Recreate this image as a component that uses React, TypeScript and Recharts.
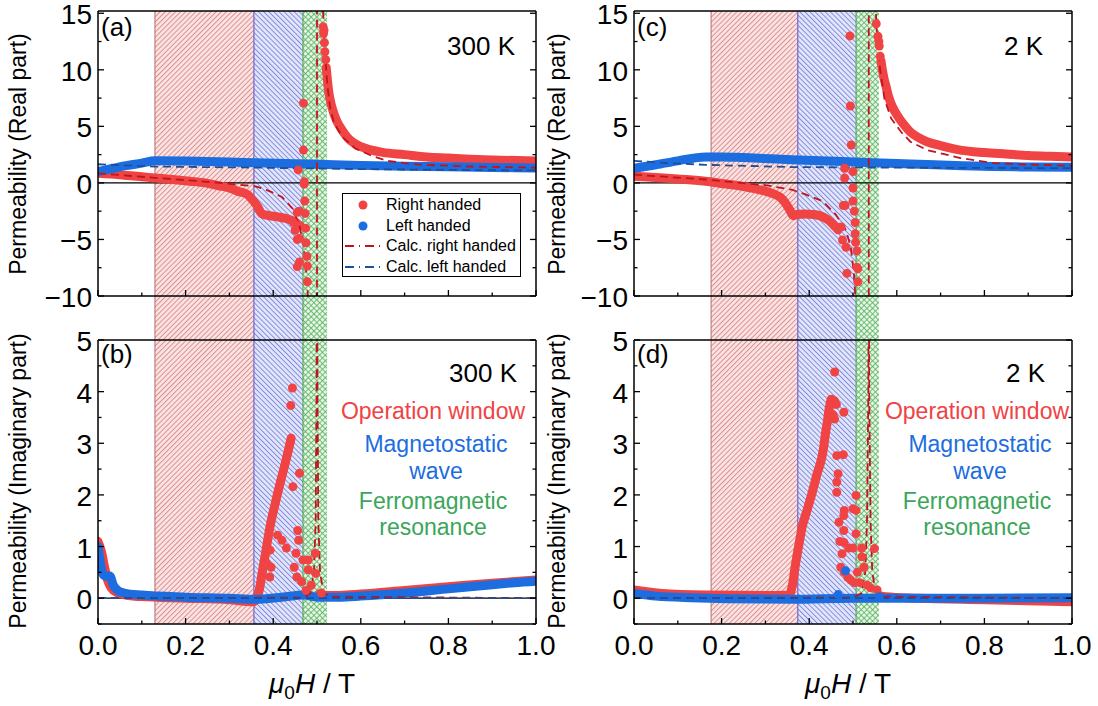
import React from 'react';
import {
  ComposedChart,
  Line,
  Scatter,
  XAxis,
  YAxis,
  ReferenceArea,
  ReferenceLine,
  Legend
} from 'recharts';

type Pair = [number, number];

// ---- axes
const X_TICKS = [0, 0.1, 0.2, 0.3, 0.4, 0.5, 0.6, 0.7, 0.8, 0.9, 1.0];
const REAL_TICKS = [-10, -7.5, -5, -2.5, 0, 2.5, 5, 7.5, 10, 12.5, 15];
const IMAG_TICKS = [-0.5, 0, 0.5, 1, 1.5, 2, 2.5, 3, 3.5, 4, 4.5, 5];
const REAL_DOMAIN: [number, number] = [-10, 15.2];
const IMAG_DOMAIN: [number, number] = [-0.5, 5];

// ---- shaded field windows (T): operation / magnetostatic wave / FMR
const WIN_300K: Pair[] = [[0.13, 0.356], [0.356, 0.468], [0.468, 0.523]];
const WIN_2K: Pair[] = [[0.176, 0.374], [0.374, 0.507], [0.507, 0.559]];

// ---- (a) 300 K, real part
const aRedLow: Pair[] = [
  [0, 0.85], [0.03, 0.78], [0.06, 0.68], [0.1, 0.55], [0.13, 0.43], [0.17, 0.3], [0.21, 0.15],
  [0.245, 0.0], [0.275, -0.25], [0.3, -0.45], [0.32, -0.75], [0.34, -1.0], [0.355, -1.6],
  [0.366, -2.2], [0.373, -2.7], [0.385, -2.85], [0.41, -3.0], [0.43, -3.15], [0.445, -3.35],
  [0.455, -3.6], [0.462, -3.8]
];
const aRedHigh: Pair[] = [
  [0.521, 10.2], [0.524, 9.0], [0.527, 8.0], [0.532, 7.0], [0.538, 6.2], [0.545, 5.5], [0.555, 4.8],
  [0.57, 4.0], [0.585, 3.5], [0.6, 3.2], [0.62, 2.95], [0.65, 2.7], [0.7, 2.5], [0.75, 2.3],
  [0.8, 2.2], [0.85, 2.1], [0.9, 2.03], [1.0, 1.93]
];
const aRedDots: Pair[] = [
  [0.514, 13.8], [0.516, 13.5], [0.515, 13.2], [0.517, 12.4], [0.518, 11.6], [0.52, 10.9],
  [0.469, 7.05], [0.469, 2.9], [0.457, 1.15], [0.471, 0.1], [0.471, -0.1], [0.472, -1.6],
  [0.455, -2.6], [0.46, -2.5], [0.473, -2.7], [0.446, -3.5], [0.45, -4.2], [0.474, -4.0],
  [0.455, -5.0], [0.46, -4.9], [0.475, -5.3], [0.477, -6.5], [0.455, -7.4], [0.46, -7.0],
  [0.478, -7.35], [0.478, -8.75]
];
const aBlue: Pair[] = [
  [0, 1.0], [0.03, 1.25], [0.06, 1.5], [0.1, 1.75], [0.13, 1.95], [0.2, 1.93], [0.3, 1.85],
  [0.36, 1.78], [0.45, 1.7], [0.52, 1.62], [0.6, 1.55], [0.7, 1.48], [0.8, 1.42], [0.9, 1.37], [1.0, 1.32]
];
const aCalcRed: Pair[] = [
  [0, 0.85], [0.13, 0.45], [0.25, 0.1], [0.36, -0.3], [0.39, -0.7], [0.42, -1.25], [0.445, -2.3],
  [0.46, -3.8], [0.47, -5.6], [0.476, -8.0], [0.48, -10.5], [0.485, -20], [0.5, -20], [0.5, 20],
  [0.512, 20], [0.514, 15], [0.518, 11.5], [0.524, 8.5], [0.53, 6.7], [0.538, 5.4], [0.557, 4.1],
  [0.587, 3.05], [0.625, 2.4], [0.66, 1.95], [0.7, 1.75], [0.74, 1.6], [0.85, 1.45], [1.0, 1.35]
];
const aCalcBlue: Pair[] = [[0, 1.65], [0.13, 1.45], [0.36, 1.35], [0.6, 1.22], [0.8, 1.15], [1.0, 1.1]];

// ---- (b) 300 K, imaginary part
const bRedRise: Pair[] = [
  [0, 1.1], [0.008, 0.9], [0.015, 0.6], [0.022, 0.35], [0.03, 0.2], [0.045, 0.1], [0.07, 0.05],
  [0.1, 0.03], [0.2, 0.0], [0.3, -0.03], [0.355, -0.07], [0.362, 0.0], [0.368, 0.15], [0.375, 0.5],
  [0.383, 0.9], [0.392, 1.35], [0.405, 1.85], [0.418, 2.3], [0.43, 2.7], [0.437, 2.95], [0.441, 3.1]
];
const bRedTail: Pair[] = [
  [0.505, 0.08], [0.515, 0.06], [0.525, 0.05], [0.6, 0.08], [0.7, 0.15], [0.8, 0.22], [0.9, 0.29], [1.0, 0.35]
];
const bRedDots: Pair[] = [
  [0.444, 4.07], [0.44, 3.73], [0.46, 2.42], [0.445, 2.16], [0.41, 1.22], [0.42, 1.12], [0.43, 0.97],
  [0.393, 0.93], [0.385, 0.68], [0.395, 0.6], [0.392, 0.41], [0.456, 1.31], [0.458, 1.12],
  [0.452, 0.87], [0.448, 0.6], [0.454, 0.41], [0.465, 0.32], [0.468, 0.74], [0.48, 0.74],
  [0.48, 0.55], [0.496, 0.87], [0.497, 0.48], [0.487, 0.25], [0.51, 0.1], [0.475, 0.15]
];
const bBlue: Pair[] = [
  [0, 1.0], [0.005, 0.7], [0.012, 0.45], [0.02, 0.42], [0.027, 0.43], [0.035, 0.25], [0.045, 0.15],
  [0.06, 0.1], [0.1, 0.06], [0.2, 0.02], [0.3, 0.0], [0.36, -0.02], [0.42, 0.02], [0.47, 0.06],
  [0.5, 0.02], [0.55, 0.02], [0.6, 0.04], [0.7, 0.1], [0.8, 0.18], [0.9, 0.26], [0.95, 0.3], [1.0, 0.33]
];
const bCalcRed: Pair[] = [
  [0, 0], [0.47, 0.01], [0.485, 0.1], [0.493, 0.5], [0.497, 1.5], [0.499, 4], [0.5, 8], [0.501, 4],
  [0.503, 1.5], [0.507, 0.5], [0.515, 0.1], [0.53, 0.03], [1.0, 0]
];
const bCalcBlue: Pair[] = [[0, 0], [1.0, 0]];

// ---- (c) 2 K, real part
const cRedLow: Pair[] = [
  [0, 0.6], [0.05, 0.48], [0.1, 0.35], [0.163, 0.14], [0.2, -0.05], [0.247, -0.3], [0.275, -0.5],
  [0.3, -0.73], [0.32, -1.0], [0.335, -1.3], [0.345, -1.75], [0.355, -2.35], [0.364, -2.9],
  [0.372, -2.8], [0.39, -2.75], [0.41, -2.8], [0.434, -3.05], [0.449, -3.45], [0.46, -3.9], [0.466, -4.15]
];
const cRedHigh: Pair[] = [
  [0.564, 10.8], [0.567, 10.0], [0.571, 9.2], [0.575, 8.6], [0.58, 7.8], [0.586, 7.1], [0.593, 6.5],
  [0.601, 5.97], [0.615, 5.2], [0.631, 4.5], [0.65, 4.0], [0.669, 3.64], [0.7, 3.3], [0.745, 2.9],
  [0.8, 2.68], [0.85, 2.55], [0.9, 2.42], [0.95, 2.35], [1.0, 2.3]
];
const cRedDots: Pair[] = [
  [0.493, 13.0], [0.494, 6.8], [0.496, 3.35], [0.481, 1.3], [0.481, 0.43], [0.5, 1.0], [0.5, -0.45],
  [0.5, -1.6], [0.478, -2.0], [0.482, -2.0], [0.503, -2.5], [0.505, -3.5], [0.473, -3.9],
  [0.505, -4.5], [0.476, -5.05], [0.506, -5.25], [0.484, -5.7], [0.509, -6.0], [0.509, -7.45],
  [0.511, -7.6], [0.486, -8.0], [0.511, -8.75], [0.553, 14.07], [0.557, 12.96], [0.559, 12.5],
  [0.56, 12.1], [0.562, 11.2]
];
const cBlue: Pair[] = [
  [0, 1.3], [0.05, 1.6], [0.1, 1.95], [0.163, 2.3], [0.2, 2.3], [0.25, 2.24], [0.36, 2.05], [0.5, 1.85],
  [0.6, 1.72], [0.67, 1.62], [0.75, 1.52], [0.82, 1.45], [0.9, 1.41], [1.0, 1.38]
];
const cCalcRed: Pair[] = [
  [0, 0.73], [0.163, 0.3], [0.3, -0.2], [0.36, -0.6], [0.39, -1.0], [0.43, -1.6], [0.46, -2.75],
  [0.484, -4.2], [0.495, -5.7], [0.502, -8], [0.506, -10.5], [0.51, -20], [0.536, -20], [0.536, 20],
  [0.55, 20], [0.553, 14], [0.562, 10], [0.572, 7.4], [0.587, 5.7], [0.61, 4.5], [0.631, 3.64],
  [0.67, 2.9], [0.745, 2.2], [0.822, 1.74], [0.9, 1.62], [1.0, 1.52]
];
const cCalcBlue: Pair[] = [[0, 1.95], [0.08, 1.75], [0.163, 1.6], [0.36, 1.4], [0.6, 1.35], [1.0, 1.3]];

// ---- (d) 2 K, imaginary part
const dRedRise: Pair[] = [
  [0, 0.16], [0.065, 0.09], [0.163, 0.06], [0.3, 0.05], [0.354, 0.06], [0.361, 0.22], [0.369, 0.67],
  [0.377, 1.06], [0.384, 1.38], [0.395, 1.7], [0.406, 2.02], [0.418, 2.41], [0.429, 2.73],
  [0.433, 2.92], [0.437, 3.18], [0.441, 3.4], [0.446, 3.69], [0.45, 3.85]
];
const dRedTail: Pair[] = [[0.56, 0.05], [0.574, 0.03], [0.65, 0.0], [0.8, -0.03], [0.9, -0.05], [1.0, -0.07]];
const dRedDots: Pair[] = [
  [0.458, 4.38], [0.452, 3.85], [0.458, 3.82], [0.462, 3.75], [0.479, 3.6], [0.458, 3.47], [0.455, 3.55],
  [0.463, 2.76], [0.478, 2.78], [0.466, 2.41], [0.463, 2.25], [0.463, 2.05], [0.48, 1.7], [0.479, 1.6],
  [0.468, 1.47], [0.479, 1.31], [0.47, 1.1], [0.479, 1.08], [0.475, 0.86], [0.472, 0.6], [0.48, 0.5],
  [0.488, 0.4], [0.495, 0.35], [0.503, 0.3], [0.507, 1.99], [0.5, 1.73], [0.507, 1.7], [0.507, 1.25],
  [0.49, 0.97], [0.5, 0.97], [0.52, 0.97], [0.52, 0.8], [0.525, 0.6], [0.549, 0.96], [0.533, 0.25],
  [0.54, 0.2], [0.555, 0.16], [0.51, 0.5], [0.515, 0.3]
];
const dBlue: Pair[] = [[0, 0.09], [0.05, 0.04], [0.13, 0.01], [0.36, -0.02], [0.5, 0.0], [0.575, 0.0], [0.8, 0.0], [1.0, 0.01]];
const dBlueDots: Pair[] = [[0.483, 0.53], [0.466, 0.07], [0.56, 0.03]];
const dCalcRed: Pair[] = [
  [0, 0], [0.5, 0.01], [0.52, 0.1], [0.528, 0.5], [0.532, 1.5], [0.535, 4], [0.536, 8], [0.537, 4],
  [0.54, 1.5], [0.544, 0.5], [0.552, 0.1], [0.57, 0.03], [1.0, 0]
];
const dCalcBlue: Pair[] = [[0, 0], [1.0, 0]];

// ---- colours / fonts
const RED = '#f04343';
const BLUE = '#1c6ddf';
const CALC_RED = '#c0141c';
const CALC_BLUE = '#1f4f96';
const GREEN_TXT = '#3aa65a';
const FONT = "'Liberation Sans', Arial, Helvetica, sans-serif";
const CHART_W = 562;
const PLOT_RIGHT_PAD = 26; // chart width minus plot right edge
const AXIS_LINE = { stroke: '#000', strokeWidth: 1.5 };
const HATCH_IDS = ['hatch-red', 'hatch-blue', 'hatch-green'];
const HATCH_EDGES = ['#b86a6a', '#5a4fc4', '#3f9f45'];

const pts = (a: Pair[]) => a.map(([x, y]) => ({ x, y }));
const isXMajor = (v: number) => Math.round(v * 10) % 2 === 0;
const isRealMajor = (v: number) => v % 5 === 0;
const isImagMajor = (v: number) => Number.isInteger(v);
const fmtX = (v: number) => v.toFixed(1);
const fmtY = (v: number) => (v < 0 ? '\u2212' + Math.abs(v) : String(v));

type Side = 'bottom' | 'top' | 'left' | 'right';

function tickRenderer(side: Side, isMajor: (v: number) => boolean, fmt: ((v: number) => string) | null) {
  return (props: any) => {
    const { x, y, payload } = props;
    const v = payload.value as number;
    const major = isMajor(v);
    const len = major ? 6 : 3.5;
    const dx = side === 'left' ? len : side === 'right' ? -len : 0;
    const dy = side === 'bottom' ? -len : side === 'top' ? len : 0;
    return (
      <g>
        <line x1={x} y1={y} x2={x + dx} y2={y + dy} stroke="#000" strokeWidth={1.3} />
        {fmt && major && side === 'bottom' && (
          <text x={x} y={y + 31} textAnchor="middle" fontSize={28} fontFamily={FONT} fill="#000">{fmt(v)}</text>
        )}
        {fmt && major && side === 'left' && (
          <text x={x - 6} y={y + 11} textAnchor="end" fontSize={28} fontFamily={FONT} fill="#000">{fmt(v)}</text>
        )}
      </g>
    );
  };
}

const dot = (color: string) => (p: any) => <circle cx={p.cx} cy={p.cy} r={4.5} fill={color} />;

const LEGEND_ROWS = [
  { label: 'Right handed', color: RED, dashed: false },
  { label: 'Left handed', color: BLUE, dashed: false },
  { label: 'Calc. right handed', color: CALC_RED, dashed: true },
  { label: 'Calc. left handed', color: CALC_BLUE, dashed: true }
];

function LegendBox() {
  return (
    <div style={{ border: '1.3px solid #000', background: '#fff', height: 84, boxSizing: 'border-box', paddingTop: 1, fontFamily: FONT, fontSize: 16, color: '#000' }}>
      {LEGEND_ROWS.map(r => (
        <div key={r.label} style={{ display: 'flex', alignItems: 'center', height: 20.5 }}>
          <svg width={43} height={20} style={{ flex: 'none' }}>
            {r.dashed
              ? <line x1={2} y1={10} x2={40} y2={10} stroke={r.color} strokeWidth={1.8} strokeDasharray="9 5 1 5" />
              : <circle cx={20} cy={10} r={4.5} fill={r.color} />}
          </svg>
          <span style={{ whiteSpace: 'nowrap' }}>{r.label}</span>
        </div>
      ))}
    </div>
  );
}

interface PanelProps {
  left: number;
  top: number;
  height: number;
  plotTop: number;
  plotBottom: number;
  yDomain: [number, number];
  yTicks: number[];
  yMajor: (v: number) => boolean;
  showXLabels: boolean;
  windows: Pair[];
  regionLow: number;
  regionHigh: number;
  redLines: Pair[][];
  blueLines: Pair[][];
  redDots: Pair[];
  blueDots: Pair[];
  calcRed: Pair[];
  calcBlue: Pair[];
  legend?: boolean;
}

function Panel(p: PanelProps) {
  const margin = {
    top: p.plotTop - p.top - 1,
    bottom: p.top + p.height - p.plotBottom - 1,
    left: 97,
    right: PLOT_RIGHT_PAD - 1
  };
  return (
    <div style={{ position: 'absolute', left: p.left, top: p.top, width: CHART_W, height: p.height }}>
      <ComposedChart width={CHART_W} height={p.height} margin={margin}>
        <XAxis type="number" dataKey="x" domain={[0, 1]} ticks={X_TICKS} interval={0} allowDataOverflow
          height={1} tickSize={0} tickMargin={0} tickLine={false} axisLine={AXIS_LINE}
          tick={tickRenderer('bottom', isXMajor, p.showXLabels ? fmtX : null)} />
        <XAxis xAxisId="top" orientation="top" type="number" domain={[0, 1]} ticks={X_TICKS} interval={0} allowDataOverflow
          height={1} tickSize={0} tickMargin={0} tickLine={false} axisLine={AXIS_LINE}
          tick={tickRenderer('top', isXMajor, null)} />
        <YAxis type="number" dataKey="y" domain={p.yDomain} ticks={p.yTicks} interval={0} allowDataOverflow
          width={1} tickSize={0} tickMargin={0} tickLine={false} axisLine={AXIS_LINE}
          tick={tickRenderer('left', p.yMajor, fmtY)} />
        <YAxis yAxisId="right" orientation="right" type="number" domain={p.yDomain} ticks={p.yTicks} interval={0} allowDataOverflow
          width={1} tickSize={0} tickMargin={0} tickLine={false} axisLine={AXIS_LINE}
          tick={tickRenderer('right', p.yMajor, null)} />
        {p.windows.map(([x1, x2], i) => (
          <ReferenceArea key={'w' + i} x1={x1} x2={x2} y1={p.regionLow} y2={p.regionHigh} ifOverflow="visible"
            shape={(s: any) => (
              <g>
                <rect x={s.x} y={s.y} width={s.width} height={s.height} fill={`url(#${HATCH_IDS[i]})`} />
                <line x1={s.x} y1={s.y} x2={s.x} y2={s.y + s.height} stroke={HATCH_EDGES[i]} strokeWidth={1} />
              </g>
            )} />
        ))}
        <ReferenceLine y={0} stroke="#000" strokeWidth={1.3} />
        {p.redLines.map((d, i) => (
          <Line key={'r' + i} data={pts(d)} dataKey="y" type="monotone" stroke={RED} strokeWidth={9}
            strokeLinecap="round" strokeLinejoin="round" dot={false} activeDot={false} isAnimationActive={false} />
        ))}
        <Scatter data={pts(p.redDots)} dataKey="y" shape={dot(RED)} isAnimationActive={false} />
        {p.blueLines.map((d, i) => (
          <Line key={'b' + i} data={pts(d)} dataKey="y" type="monotone" stroke={BLUE} strokeWidth={9}
            strokeLinecap="round" strokeLinejoin="round" dot={false} activeDot={false} isAnimationActive={false} />
        ))}
        <Scatter data={pts(p.blueDots)} dataKey="y" shape={dot(BLUE)} isAnimationActive={false} />
        <Line data={pts(p.calcRed)} dataKey="y" type="linear" stroke={CALC_RED} strokeWidth={1.8} strokeDasharray="8 5"
          dot={false} activeDot={false} isAnimationActive={false} />
        <Line data={pts(p.calcBlue)} dataKey="y" type="linear" stroke={CALC_BLUE} strokeWidth={1.8} strokeDasharray="8 5"
          dot={false} activeDot={false} isAnimationActive={false} />
        {p.legend && (
          <Legend layout="vertical" align="center" verticalAlign="middle"
            wrapperStyle={{ left: 342 - p.left, top: 193 - p.top, width: 179, height: 84 }}
            content={() => <LegendBox />} />
        )}
      </ComposedChart>
    </div>
  );
}

// layout (page px)
const ROW1 = { top: -12, height: 353, plotTop: 11, plotBottom: 296 };
const ROW2 = { top: 312, height: 394, plotTop: 340, plotBottom: 624 };
const COL_LEFT = [0, 536];
const realPx = (ROW1.plotBottom - ROW1.plotTop) / (REAL_DOMAIN[1] - REAL_DOMAIN[0]);
const REAL_LOW = REAL_DOMAIN[0] - (ROW2.plotTop - ROW1.plotBottom) / realPx;

function Hatches() {
  return (
    <svg width={0} height={0} style={{ position: 'absolute' }}>
      <defs>
        <pattern id="hatch-red" patternUnits="userSpaceOnUse" width={3.6} height={3.6} patternTransform="rotate(45)">
          <rect width={3.6} height={3.6} fill="#fce2e2" />
          <line x1={0.5} y1={0} x2={0.5} y2={3.6} stroke="#cf8080" strokeWidth={0.8} />
        </pattern>
        <pattern id="hatch-blue" patternUnits="userSpaceOnUse" width={3.6} height={3.6} patternTransform="rotate(-45)">
          <rect width={3.6} height={3.6} fill="#e2e6fb" />
          <line x1={0.5} y1={0} x2={0.5} y2={3.6} stroke="#7178d6" strokeWidth={0.8} />
        </pattern>
        <pattern id="hatch-green" patternUnits="userSpaceOnUse" width={4} height={4} patternTransform="rotate(45)">
          <rect width={4} height={4} fill="#e6f6e6" />
          <line x1={0.5} y1={0} x2={0.5} y2={4} stroke="#55b05a" strokeWidth={0.8} />
          <line x1={0} y1={0.5} x2={4} y2={0.5} stroke="#55b05a" strokeWidth={0.8} />
        </pattern>
      </defs>
    </svg>
  );
}

function Annotations() {
  const t = { fontFamily: FONT, fill: '#000' } as const;
  const windowText = (cx: number) => (
    <g fontFamily={FONT} fontSize={23} textAnchor="middle">
      <text x={cx} y={419} fill={RED}>Operation window</text>
      <text x={cx + 3} y={452} fill={BLUE}>Magnetostatic</text>
      <text x={cx + 3} y={478.5} fill={BLUE}>wave</text>
      <text x={cx} y={508.5} fill={GREEN_TXT}>Ferromagnetic</text>
      <text x={cx} y={535} fill={GREEN_TXT}>resonance</text>
    </g>
  );
  const xTitle = (cx: number) => (
    <text x={cx} y={693} textAnchor="middle" fontSize={28} {...t}>
      <tspan fontStyle="italic">{'\u03bc'}</tspan>
      <tspan fontSize={19} dy={6}>0</tspan>
      <tspan fontStyle="italic" dy={-6}>H</tspan>
      <tspan> / T</tspan>
    </text>
  );
  const yTitle = (cx: number, cy: number, label: string) => (
    <text x={cx} y={cy} transform={`rotate(-90 ${cx} ${cy})`} textAnchor="middle" dominantBaseline="central" fontSize={23} {...t}>
      {label}
    </text>
  );
  return (
    <svg width={1098} height={706} style={{ position: 'absolute', left: 0, top: 0, pointerEvents: 'none' }}>
      <text x={101} y={36} fontSize={26} {...t}>(a)</text>
      <text x={515} y={55} fontSize={26} textAnchor="end" {...t}>300 K</text>
      <text x={101} y={363} fontSize={26} {...t}>(b)</text>
      <text x={517} y={382} fontSize={26} textAnchor="end" {...t}>300 K</text>
      <text x={637} y={36} fontSize={26} {...t}>(c)</text>
      <text x={1043} y={55} fontSize={26} textAnchor="end" {...t}>2 K</text>
      <text x={637} y={363} fontSize={26} {...t}>(d)</text>
      <text x={1045} y={382} fontSize={26} textAnchor="end" {...t}>2 K</text>
      {windowText(433)}
      {windowText(977)}
      {xTitle(312)}
      {xTitle(848)}
      {yTitle(18, 154, 'Permeability (Real part)')}
      {yTitle(18, 481, 'Permeability (Imaginary part)')}
      {yTitle(557, 154, 'Permeability (Real part)')}
      {yTitle(557, 481, 'Permeability (Imaginary part)')}
    </svg>
  );
}

export default function App() {
  return (
    <div style={{ position: 'absolute', left: 0, top: 0, width: 1098, height: 706, background: '#fff', overflow: 'hidden' }}>
      <Hatches />
      <Panel left={COL_LEFT[0]} {...ROW1} yDomain={REAL_DOMAIN} yTicks={REAL_TICKS} yMajor={isRealMajor}
        showXLabels={false} windows={WIN_300K} regionLow={REAL_LOW} regionHigh={REAL_DOMAIN[1]}
        redLines={[aRedLow, aRedHigh]} blueLines={[aBlue]} redDots={aRedDots} blueDots={[]}
        calcRed={aCalcRed} calcBlue={aCalcBlue} legend />
      <Panel left={COL_LEFT[1]} {...ROW1} yDomain={REAL_DOMAIN} yTicks={REAL_TICKS} yMajor={isRealMajor}
        showXLabels={false} windows={WIN_2K} regionLow={REAL_LOW} regionHigh={REAL_DOMAIN[1]}
        redLines={[cRedLow, cRedHigh]} blueLines={[cBlue]} redDots={cRedDots} blueDots={[]}
        calcRed={cCalcRed} calcBlue={cCalcBlue} />
      <Panel left={COL_LEFT[0]} {...ROW2} yDomain={IMAG_DOMAIN} yTicks={IMAG_TICKS} yMajor={isImagMajor}
        showXLabels windows={WIN_300K} regionLow={IMAG_DOMAIN[0]} regionHigh={IMAG_DOMAIN[1]}
        redLines={[bRedRise, bRedTail]} blueLines={[bBlue]} redDots={bRedDots} blueDots={[]}
        calcRed={bCalcRed} calcBlue={bCalcBlue} />
      <Panel left={COL_LEFT[1]} {...ROW2} yDomain={IMAG_DOMAIN} yTicks={IMAG_TICKS} yMajor={isImagMajor}
        showXLabels windows={WIN_2K} regionLow={IMAG_DOMAIN[0]} regionHigh={IMAG_DOMAIN[1]}
        redLines={[dRedRise, dRedTail]} blueLines={[dBlue]} redDots={dRedDots} blueDots={dBlueDots}
        calcRed={dCalcRed} calcBlue={dCalcBlue} />
      <Annotations />
    </div>
  );
}
